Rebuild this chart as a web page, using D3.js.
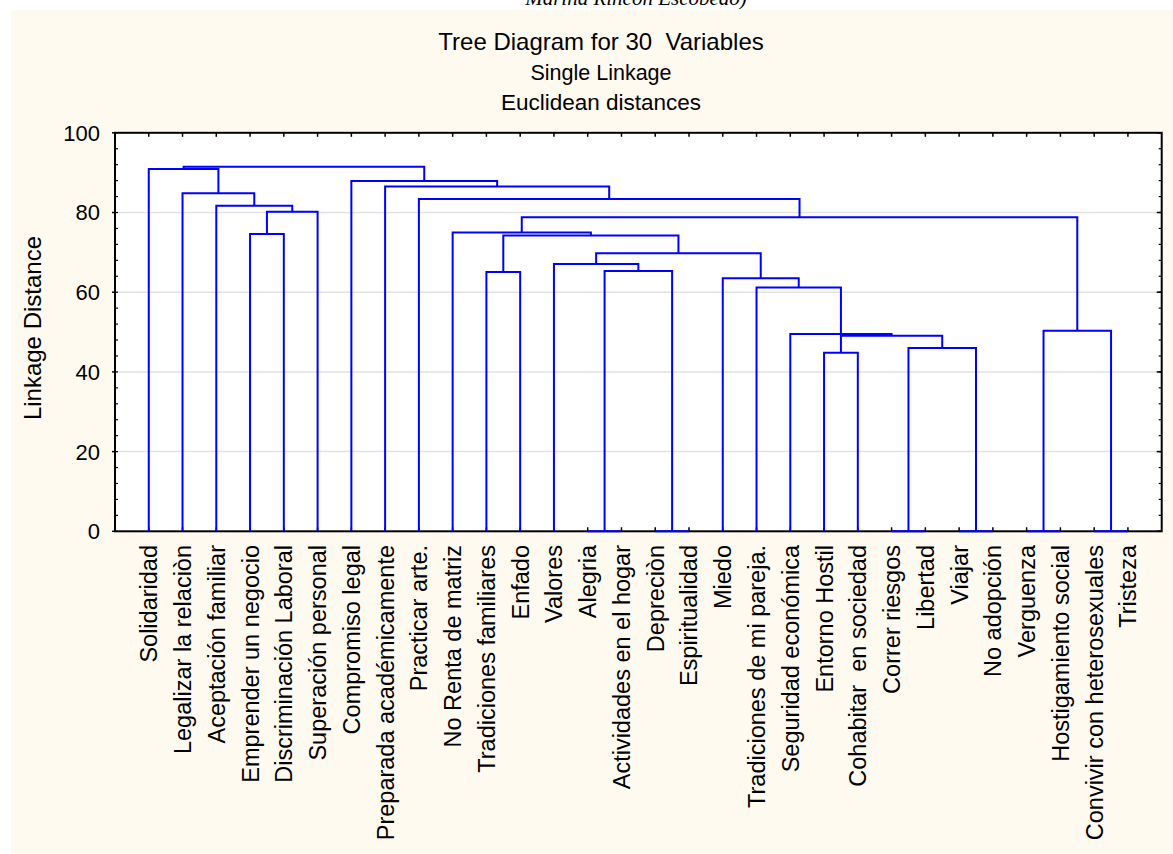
<!DOCTYPE html>
<html>
<head>
<meta charset="utf-8">
<script src="https://cdn.jsdelivr.net/npm/d3@7"></script>
<style>
html,body{margin:0;padding:0;background:#fff;}
svg{display:block;}
text{font-family:"Liberation Sans", Arial, sans-serif;fill:#000;white-space:pre;}
</style>
</head>
<body>
<svg id="chart" width="1173" height="854"></svg>
<script>
// ---- data ----
const caption = "Marina Rincón Escobedo)";
const titleLines = ["Tree Diagram for 30  Variables", "Single Linkage", "Euclidean distances"];
const yAxisTitle = "Linkage Distance";
const yTicks = [0, 20, 40, 60, 80, 100];

const leafLabels = [
  "Solidaridad", "Legalizar la relaciòn", "Aceptación familiar", "Emprender un negocio",
  "Discriminación Laboral", "Superación personal", "Compromiso legal", "Preparada académicamente",
  "Practicar arte.", "No Renta de matriz", "Tradiciones familiares", "Enfado", "Valores",
  "Alegria", "Actividades en el hogar", "Depreciòn", "Espiritualidad", "Miedo",
  "Tradiciones de mi pareja.", "Seguridad económica", "Entorno Hostil", "Cohabitar  en sociedad",
  "Correr riesgos", "Libertad", "Viajar", "No adopción", "Verguenza", "Hostigamiento social",
  "Convivir con heterosexuales", "Tristeza"
];

// linkage list: positive = leaf number (1-based), negative = earlier merge number (1-based)
const mergeA = [14, 16, 23, 25, 27, 29, 21, -3, -7, 20, -5, 19, 18, 11, -1, 13, -16, -14, 4, 10, -20, -19, 3, 9, 2, 8, 7, 1, -28];
const mergeB = [15, 17, 24, 26, 28, 30, 22, -4, -8, -9, -6, -10, -12, 12, -2, -15, -13, -17, 5, -18, -11, 6, -22, -21, -23, -24, -26, -25, -27];
const mergeHeight = [0, 0, 0, 0, 0, 0, 44.8, 46.0, 49.1, 49.5, 50.3, 61.2, 63.5, 65.1, 65.3, 67.1, 69.8, 74.2, 74.6, 75.0, 78.8, 80.2, 81.7, 83.4, 84.8, 86.5, 87.9, 90.9, 91.5];

// ---- layout ----
const W = 1173, H = 854;
const plot = {left: 115, right: 1161.7, top: 132.8, bottom: 531.3};
const svg = d3.select("#chart");

const x = d3.scaleLinear().domain([0, leafLabels.length + 1]).range([plot.left, plot.right]);
const y = d3.scaleLinear().domain([0, 100]).range([plot.bottom, plot.top]);

// backgrounds
svg.append("rect").attr("x", 0).attr("y", 0).attr("width", W).attr("height", H).attr("fill", "#ffffff");
svg.append("rect").attr("x", 11).attr("y", 10).attr("width", W - 11).attr("height", H - 10).attr("fill", "#fffaf0");

// caption (partly above the top of the page, as in the source)
svg.append("text").attr("x", 636).attr("y", 5).attr("text-anchor", "middle")
  .style("font-family", "'Liberation Serif','Times New Roman',serif").style("font-style", "italic")
  .style("font-size", "21px").text(caption);

// titles
const titleSizes = [24, 21.5, 22.5];
titleLines.forEach((t, i) => {
  svg.append("text").attr("x", 601).attr("y", 50 + i * 30).attr("text-anchor", "middle")
    .style("font-size", titleSizes[i] + "px").text(t);
});

// plot area
svg.append("rect").attr("x", plot.left).attr("y", plot.top)
  .attr("width", plot.right - plot.left).attr("height", plot.bottom - plot.top).attr("fill", "#ffffff");

// gridlines
svg.append("g").selectAll("line").data(yTicks.filter(v => v > 0 && v < 100)).join("line")
  .attr("x1", plot.left).attr("x2", plot.right).attr("y1", d => y(d)).attr("y2", d => y(d))
  .attr("stroke", "#e2e2e2").attr("stroke-width", 1.5);

// dendrogram
const nodeX = [], nodeH = [];
function posOf(ref) { return ref > 0 ? x(ref) : nodeX[-ref - 1]; }
function hOf(ref) { return ref > 0 ? 0 : nodeH[-ref - 1]; }
const segs = [];
mergeA.forEach((a, i) => {
  const b = mergeB[i], h = mergeHeight[i];
  const xa = posOf(a), xb = posOf(b);
  nodeX.push((xa + xb) / 2);
  nodeH.push(h);
  segs.push(`M${xa},${y(hOf(a))}V${y(h)}H${xb}V${y(hOf(b))}`);
});

// axes: left / right minor & major ticks
const minorTicks = d3.range(0, 101, 4);
const axisG = svg.append("g");
axisG.selectAll(".lmin").data(minorTicks).join("line")
  .attr("x1", plot.left).attr("x2", plot.left + 3).attr("y1", d => y(d)).attr("y2", d => y(d))
  .attr("stroke", "#000").attr("stroke-width", 1.2);
axisG.selectAll(".lmaj").data(yTicks).join("line")
  .attr("x1", plot.left - 3).attr("x2", plot.left).attr("y1", d => y(d)).attr("y2", d => y(d))
  .attr("stroke", "#000").attr("stroke-width", 1.5);
axisG.selectAll(".rmin").data(minorTicks).join("line")
  .attr("x1", plot.right - 3).attr("x2", plot.right).attr("y1", d => y(d)).attr("y2", d => y(d))
  .attr("stroke", "#000").attr("stroke-width", 1.2);
axisG.selectAll(".rmaj").data(yTicks).join("line")
  .attr("x1", plot.right - 5).attr("x2", plot.right).attr("y1", d => y(d)).attr("y2", d => y(d))
  .attr("stroke", "#000").attr("stroke-width", 1.5);
const leafIdx = d3.range(1, leafLabels.length + 1);
axisG.selectAll(".tt").data(leafIdx).join("line")
  .attr("x1", d => x(d)).attr("x2", d => x(d)).attr("y1", plot.top).attr("y2", plot.top + 4)
  .attr("stroke", "#000").attr("stroke-width", 1.5);
axisG.selectAll(".bt").data(leafIdx).join("line")
  .attr("x1", d => x(d)).attr("x2", d => x(d)).attr("y1", plot.bottom).attr("y2", plot.bottom - 4)
  .attr("stroke", "#000").attr("stroke-width", 1.5);

// frame
svg.append("rect").attr("x", plot.left).attr("y", plot.top)
  .attr("width", plot.right - plot.left).attr("height", plot.bottom - plot.top)
  .attr("fill", "none").attr("stroke", "#000").attr("stroke-width", 2);

// tree lines on top
svg.append("g").selectAll("path").data(segs).join("path")
  .attr("d", d => d).attr("fill", "none").attr("stroke", "#0000ff").attr("stroke-width", 2);

// y tick labels
svg.append("g").selectAll("text").data(yTicks).join("text")
  .attr("x", 100).attr("y", d => y(d)).attr("text-anchor", "end").attr("dy", "0.36em")
  .style("font-size", "22px").text(d => d);

// y title
svg.append("text").attr("transform", `translate(41,${(plot.top + plot.bottom) / 2 - 4}) rotate(-90)`)
  .attr("text-anchor", "middle").style("font-size", "24px").text(yAxisTitle);

// leaf labels
svg.append("g").selectAll("text").data(leafLabels).join("text")
  .attr("transform", (d, i) => `translate(${x(i + 1)},${545}) rotate(-90)`)
  .attr("text-anchor", "end").attr("dy", "0.36em")
  .style("font-size", "23.5px").text(d => d);
</script>
</body>
</html>
